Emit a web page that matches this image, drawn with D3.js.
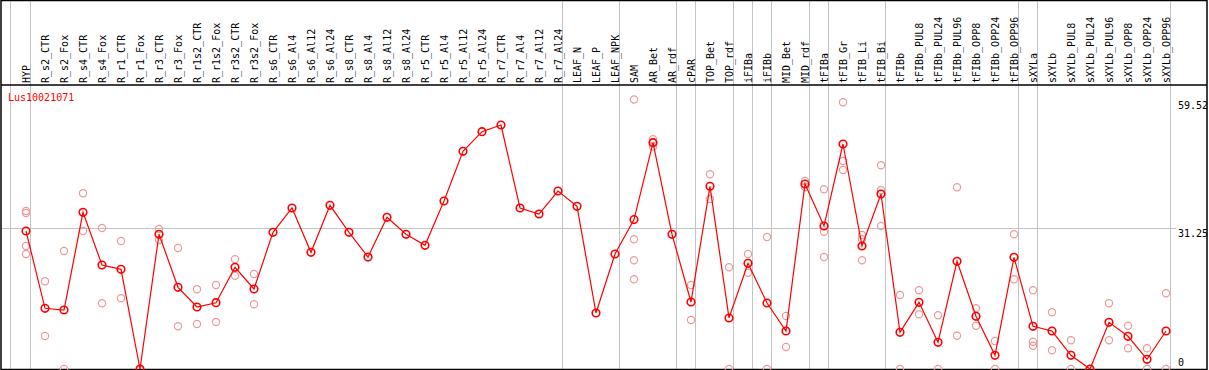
<!DOCTYPE html>
<html>
<head>
<meta charset="utf-8">
<script src="https://cdn.jsdelivr.net/npm/d3@7"></script>
<style>
  body { margin: 0; background: #fff; }
  svg { display: block; }
</style>
</head>
<body>
<div id="plot"></div>
<script>
// Lus10021071 expression profile
var w = 1209;
var h = 370;

var geneName = 'Lus10021071';

// sample names (column order)
var samples = [
	'HYP', 'R_s2_CTR', 'R_s2_Fox', 'R_s4_CTR', 'R_s4_Fox', 'R_r1_CTR', 'R_r1_Fox',
	'R_r3_CTR', 'R_r3_Fox', 'R_r1s2_CTR', 'R_r1s2_Fox', 'R_r3s2_CTR', 'R_r3s2_Fox',
	'R_s6_CTR', 'R_s6_Al4', 'R_s6_Al12', 'R_s6_Al24', 'R_s8_CTR', 'R_s8_Al4',
	'R_s8_Al12', 'R_s8_Al24', 'R_r5_CTR', 'R_r5_Al4', 'R_r5_Al12', 'R_r5_Al24',
	'R_r7_CTR', 'R_r7_Al4', 'R_r7_Al12', 'R_r7_Al24', 'LEAF_N', 'LEAF_P', 'LEAF_NPK',
	'SAM', 'AR_Bet', 'AR_rdf', 'cPAR', 'TOP_Bet', 'TOP_rdf', 'iFIBa', 'iFIBb',
	'MID_Bet', 'MID_rdf', 'tFIBa', 'tFIB_Gr', 'tFIB_Li', 'tFIB_Bi', 'tFIBb',
	'tFIBb_PUL8', 'tFIBb_PUL24', 'tFIBb_PUL96', 'tFIBb_OPP8', 'tFIBb_OPP24', 'tFIBb_OPP96',
	'sXYLa', 'sXYLb', 'sXYLb_PUL8', 'sXYLb_PUL24', 'sXYLb_PUL96', 'sXYLb_OPP8',
	'sXYLb_OPP24', 'sXYLb_OPP96'
];

// mean expression per sample
var means = [
	30.48, 13.41, 13.03, 34.61, 22.97, 22.02, 0,
	29.75, 18.04, 13.69, 14.64, 22.46, 17.67,
	30.19, 35.56, 25.77, 36.15, 30.19, 24.73,
	33.50, 29.75, 27.32, 37.10, 48.08, 52.41,
	53.89, 35.56, 34.23, 39.31, 35.93, 12.37, 25.40,
	33.00, 49.98, 29.75, 14.80, 40.35, 11.26, 23.34, 14.58,
	8.39, 40.86, 31.58, 49.69, 27.16, 38.65, 8.11,
	14.73, 5.90, 23.79, 11.64, 3.03, 24.67,
	9.43, 8.39, 3.03, 0, 10.31, 7.22,
	2.14, 8.39
];

// replicate values per sample (same order)
var replicates = [
	[34.89, 34.45, 27.16, 25.40], [19.37, 7.29], [26.06, 0], [38.80, 30.48], [31.14, 14.51],
	[28.27, 15.61], [0, 0], [30.92, 28.49], [26.72, 9.43], [17.60, 9.94], [18.55, 10.38],
	[24.23, 20.61], [20.98, 14.29],
	[], [], [], [], [], [], [], [], [], [], [], [], [], [], [], [], [], [], [],
	[59.52, 28.64, 24.01, 19.81], [50.73, 50.13, 49.09], [], [18.55, 10.82], [43.00, 37.54],
	[22.46, 0], [25.40, 21.27], [29.15, 0], [11.70, 4.86], [41.52, 40.19],
	[39.69, 30.32, 24.73], [58.90, 45.94, 43.95], [29.59, 28.64, 24.01], [44.99, 39.53, 31.58],
	[16.34, 0], [17.38, 12.08], [11.86, 0], [40.13, 7.35], [13.41, 9.56], [6.18, 0],
	[29.75, 19.81], [17.38, 6.03, 5.15], [12.52, 4.13], [6.34, 0], [0, 0], [14.51, 6.34],
	[9.56, 4.57], [4.57, 0], [16.72, 0]
];

// y axis labels on the right
var yTicks = [59.52, 31.25, 0];

// last sample of each group (gray separators)
var groupEnds = ['HYP', 'R_r7_Al24', 'LEAF_NPK', 'AR_rdf', 'cPAR', 'TOP_rdf', 'iFIBa',
	'iFIBb', 'MID_rdf', 'tFIBa', 'tFIB_Bi', 'tFIBb_OPP96', 'sXYLa', 'sXYLb_OPP96'];

var headerH = 85;
var plotBottom = 369;
var font = '"DejaVu Sans Mono", monospace';

var x = d3.scalePoint()
	.domain(samples)
	.range([26, 1166]);

var y = d3.scaleLinear()
	.domain([0, 59.52])
	.range([plotBottom, 99.5]);

var svg = d3.select('#plot').append('svg')
	.attr('width', w)
	.attr('height', h);

// group separators
var seps = [x(samples[0]) - 15.5].concat(groupEnds.map(function (d) { return x(d) + 4.5; }));
svg.selectAll('line.sep')
	.data(seps)
	.enter()
	.append('line')
	.attr('class', 'sep')
	.attr('x1', function (d) { return d; })
	.attr('x2', function (d) { return d; })
	.attr('y1', 0)
	.attr('y2', plotBottom)
	.attr('stroke', '#c4c4c4')
	.attr('stroke-width', 1);

// mid gridline
svg.append('line')
	.attr('x1', 1)
	.attr('x2', 1176)
	.attr('y1', Math.round(y(31.25)) + 0.5)
	.attr('y2', Math.round(y(31.25)) + 0.5)
	.attr('stroke', '#c4c4c4')
	.attr('stroke-width', 1);

// frame
svg.append('rect')
	.attr('x', 1)
	.attr('y', 0.5)
	.attr('width', 1206)
	.attr('height', plotBottom)
	.attr('fill', 'none')
	.attr('stroke', '#000')
	.attr('stroke-width', 1.5);

svg.append('line')
	.attr('x1', 1)
	.attr('x2', 1207)
	.attr('y1', headerH)
	.attr('y2', headerH)
	.attr('stroke', '#000')
	.attr('stroke-width', 1.5);

// column labels
svg.selectAll('text.col')
	.data(samples)
	.enter()
	.append('text')
	.attr('class', 'col')
	.attr('transform', function (d) { return 'translate(' + (x(d) + 3.5) + ',83) rotate(-90)'; })
	.text(function (d) { return d; })
	.attr('font-size', '10px')
	.attr('font-family', font)
	.attr('fill', '#000')
	.attr('text-anchor', 'start');

// gene name
svg.append('text')
	.attr('x', 8)
	.attr('y', 101)
	.text(geneName)
	.attr('font-size', '10px')
	.attr('font-family', font)
	.attr('fill', '#f00');

// right axis labels
svg.selectAll('text.tick')
	.data(yTicks)
	.enter()
	.append('text')
	.attr('class', 'tick')
	.attr('x', 1178)
	.attr('y', function (d) { return Math.min(y(d) + 9, 366); })
	.text(function (d) { return d; })
	.attr('font-size', '10px')
	.attr('font-family', font)
	.attr('fill', '#000');

// replicate dots
var repPoints = [];
samples.forEach(function (s, i) {
	replicates[i].forEach(function (v) { repPoints.push({ sample: s, value: v }); });
});

svg.selectAll('circle.rep')
	.data(repPoints)
	.enter()
	.append('circle')
	.attr('class', 'rep')
	.attr('cx', function (d) { return x(d.sample); })
	.attr('cy', function (d) { return y(d.value); })
	.attr('r', 3.6)
	.attr('fill', 'none')
	.attr('stroke', '#ec9a9a')
	.attr('stroke-width', 1.2);

// mean line
var meanData = samples.map(function (s, i) { return { sample: s, value: means[i] }; });

var line = d3.line()
	.x(function (d) { return x(d.sample); })
	.y(function (d) { return y(d.value); });

svg.append('path')
	.datum(meanData)
	.attr('d', line)
	.attr('fill', 'none')
	.attr('stroke', '#f00')
	.attr('stroke-width', 1.2);

svg.selectAll('circle.mean')
	.data(meanData)
	.enter()
	.append('circle')
	.attr('class', 'mean')
	.attr('cx', function (d) { return x(d.sample); })
	.attr('cy', function (d) { return y(d.value); })
	.attr('r', 3.8)
	.attr('fill', 'none')
	.attr('stroke', '#f00')
	.attr('stroke-width', 1.6);
</script>
</body>
</html>
